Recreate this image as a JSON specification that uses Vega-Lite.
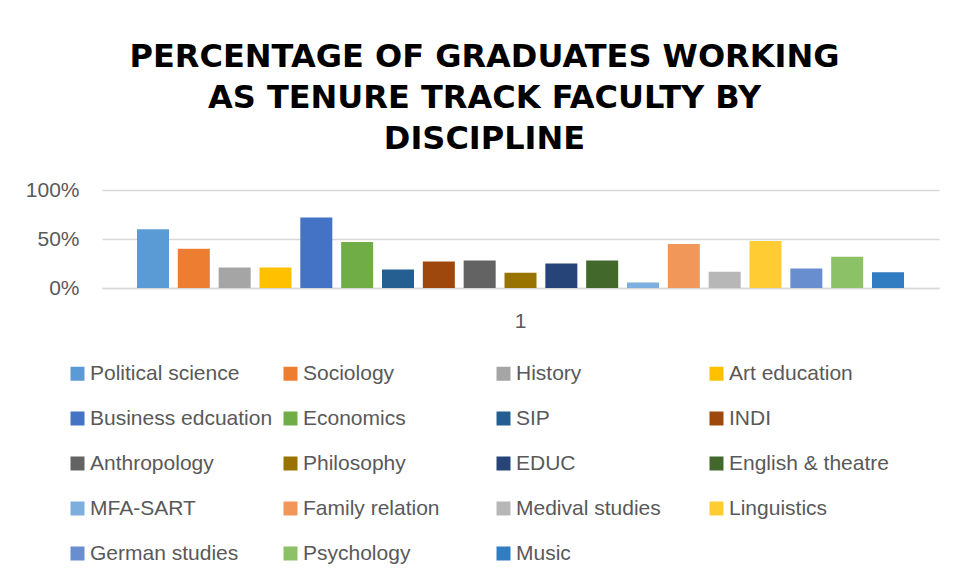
{
  "$schema": "https://vega.github.io/schema/vega-lite/v6.json",
  "width": 837,
  "height": 98,
  "autosize": {"type": "none"},
  "padding": {"left": 102, "top": 190, "right": 14, "bottom": 292},
  "background": "white",
  "title": {
    "text": ["PERCENTAGE OF GRADUATES WORKING", "AS TENURE TRACK FACULTY BY", "DISCIPLINE"],
    "font": "DejaVu Sans",
    "fontWeight": "bold",
    "fontSize": 32,
    "lineHeight": 41,
    "color": "#000000",
    "anchor": "middle",
    "dx": -36,
    "offset": 23
  },
  "data": {
    "values": [
      {"group": "1", "discipline": "Political science", "share": 0.60},
      {"group": "1", "discipline": "Sociology", "share": 0.40},
      {"group": "1", "discipline": "History", "share": 0.21},
      {"group": "1", "discipline": "Art education", "share": 0.21},
      {"group": "1", "discipline": "Business edcuation", "share": 0.72},
      {"group": "1", "discipline": "Economics", "share": 0.47},
      {"group": "1", "discipline": "SIP", "share": 0.19},
      {"group": "1", "discipline": "INDI", "share": 0.27},
      {"group": "1", "discipline": "Anthropology", "share": 0.28},
      {"group": "1", "discipline": "Philosophy", "share": 0.155},
      {"group": "1", "discipline": "EDUC", "share": 0.25},
      {"group": "1", "discipline": "English & theatre", "share": 0.28},
      {"group": "1", "discipline": "MFA-SART", "share": 0.055},
      {"group": "1", "discipline": "Family relation", "share": 0.45},
      {"group": "1", "discipline": "Medival studies", "share": 0.165},
      {"group": "1", "discipline": "Linguistics", "share": 0.48},
      {"group": "1", "discipline": "German studies", "share": 0.20},
      {"group": "1", "discipline": "Psychology", "share": 0.32},
      {"group": "1", "discipline": "Music", "share": 0.16}
    ]
  },
  "mark": {"type": "bar"},
  "encoding": {
    "x": {
      "field": "group",
      "type": "nominal",
      "scale": {"paddingInner": 0, "paddingOuter": 0.0394},
      "axis": {
        "title": null,
        "labelAngle": 0,
        "labelFont": "Liberation Sans",
        "labelFontSize": 21,
        "labelColor": "#595959",
        "labelPadding": 22,
        "ticks": false,
        "domain": true,
        "domainColor": "#d9d9d9",
        "domainWidth": 1.5
      }
    },
    "xOffset": {
      "field": "discipline",
      "type": "nominal",
      "sort": null,
      "scale": {"paddingInner": 0.216, "paddingOuter": 0.108}
    },
    "y": {
      "field": "share",
      "type": "quantitative",
      "scale": {"domain": [0, 1]},
      "axis": {
        "title": null,
        "values": [0, 0.5, 1],
        "format": ".0%",
        "labelFont": "Liberation Sans",
        "labelFontSize": 21,
        "labelColor": "#595959",
        "labelPadding": 23,
        "ticks": false,
        "domain": false,
        "gridColor": "#d9d9d9",
        "gridWidth": 1.5
      }
    },
    "color": {
      "field": "discipline",
      "type": "nominal",
      "scale": {
        "domain": ["Political science", "Business edcuation", "Anthropology", "MFA-SART", "German studies", "Sociology", "Economics", "Philosophy", "Family relation", "Psychology", "History", "SIP", "EDUC", "Medival studies", "Music", "Art education", "INDI", "English & theatre", "Linguistics"],
        "range": ["#5B9BD5", "#4472C4", "#636363", "#7CAFDD", "#698ED0", "#ED7D31", "#70AD47", "#997300", "#F1975A", "#8CC168", "#A5A5A5", "#255E91", "#264478", "#B7B7B7", "#327DC2", "#FFC000", "#9E480E", "#43682B", "#FFCD33"]
      },
      "legend": {
        "title": null,
        "orient": "none",
        "legendX": -35,
        "legendY": 173,
        "columns": 4,
        "gridAlign": "all",
        "columnPadding": 7,
        "rowPadding": 23,
        "symbolType": "square",
        "symbolSize": 196,
        "symbolStrokeWidth": 0,
        "labelFont": "Liberation Sans",
        "labelFontSize": 21,
        "labelColor": "#595959",
        "labelOffset": 2,
        "labelLimit": 300
      }
    }
  },
  "config": {"view": {"stroke": null}}
}
